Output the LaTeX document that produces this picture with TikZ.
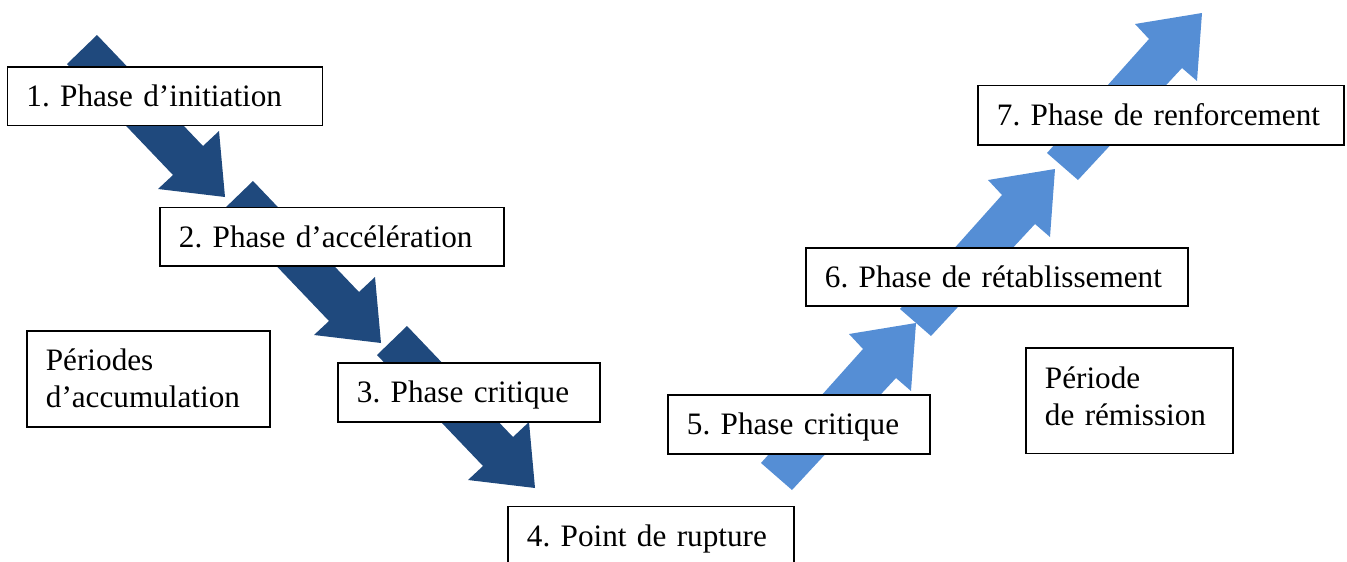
\documentclass[tikz,border=0pt]{standalone}
\usepackage{fontspec}
\setmainfont{Liberation Serif}
\frenchspacing
\hyphenpenalty=10000
\exhyphenpenalty=10000
\definecolor{darkblue}{RGB}{31,73,125}
\definecolor{lightblue}{RGB}{85,142,213}
\begin{document}
\begin{tikzpicture}[x=1pt,y=-1pt,
  phase/.style={draw=black, fill=white, line width=1.8pt, anchor=north west,
    inner xsep=19pt, inner ysep=0pt, align=left, text height=21pt, text depth=0pt,
    font=\fontsize{31.2}{37}\selectfont},
  period/.style={phase, text depth=37pt},
  darkarr/.style={fill=darkblue},
  lightarr/.style={fill=lightblue}]
\useasboundingbox (0,0) rectangle (1347,562);
\clip (0,0) rectangle (1347,562);
% dark arrows (down-right)
\foreach \sx/\sy in {0/0, 156/146, 310/291}{
  \fill[darkarr, shift={(\sx,\sy)}] (97,35) -- (203,146) -- (219,131) -- (225,197)
    -- (158,189) -- (173,175) -- (67,64) -- cycle;
}
% light arrows (up-right)
\foreach \sx/\sy in {0/0, 139/-154, 286/-310}{
  \fill[lightarr, shift={(\sx,\sy)}] (792,490) -- (896,378) -- (911,391) -- (916,323)
    -- (849,334) -- (863,349) -- (761,463) -- cycle;
}
% boxes
\node[phase, text width=277pt, minimum height=58.5pt] (p1) at (6.5,66) {\mbox{1. Phase d’initiation}};
\node[phase, text width=306pt, minimum height=58.5pt] (p2) at (159,206.5) {\mbox{2. Phase d’accélération}};
\node[phase, text width=224pt, minimum height=59pt] (p3) at (337,362) {\mbox{3. Phase critique}};
\node[phase, text width=248pt, minimum height=58.5pt] (p4) at (507,505.5) {\mbox{4. Point de rupture}};
\node[phase, text width=224pt, minimum height=59pt] (p5) at (667,394) {\mbox{5. Phase critique}};
\node[phase, text width=344pt, minimum height=58pt] (p6) at (805,247) {\mbox{6. Phase de rétablissement}};
\node[phase, text width=328pt, minimum height=59.5pt] (p7) at (977,84.5) {\mbox{7. Phase de renforcement}};
\node[period, text width=205pt, minimum height=96pt] (acc) at (26,330) {\mbox{Périodes}\\\mbox{d’accumulation}};
\node[period, text depth=44.5pt, text width=169pt, minimum height=105.5pt] (rem) at (1025,347) {\mbox{Période}\\\mbox{de rémission}};
\end{tikzpicture}
\end{document}
